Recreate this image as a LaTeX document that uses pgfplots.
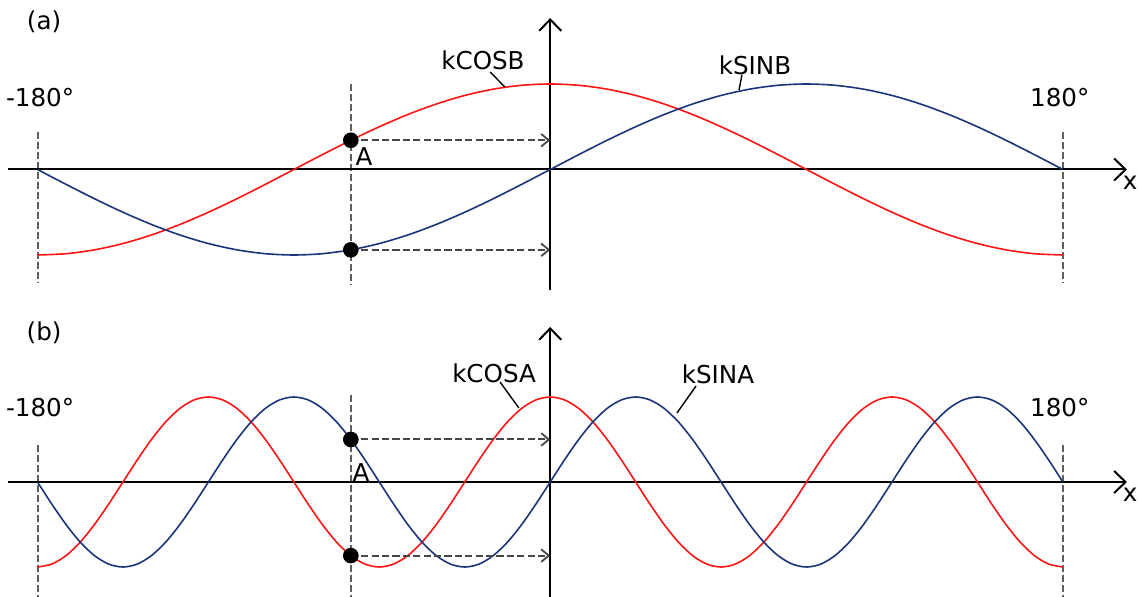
\documentclass[border=0pt]{standalone}
\usepackage{pgfplots}
\pgfplotsset{compat=1.18}
\usepackage{pgfplotstable}
\usepackage{fontspec}
\setmainfont{DejaVu Sans}
\usetikzlibrary{arrows.meta}

\definecolor{curvered}{RGB}{255,20,20}
\definecolor{curveblue}{RGB}{28,52,122}
\definecolor{dashgray}{RGB}{70,70,70}
\definecolor{guidegray}{RGB}{95,95,95}

% panel (a): one period of kSINB and kCOSB
\pgfplotstableread{
x    sinb     cosb
-180  0       -1
-170 -0.1736  -0.9848
-160 -0.3420  -0.9397
-150 -0.5000  -0.8660
-140 -0.6428  -0.7660
-130 -0.7660  -0.6428
-120 -0.8660  -0.5000
-110 -0.9397  -0.3420
-100 -0.9848  -0.1736
-90  -1        0
-80  -0.9848   0.1736
-70  -0.9397   0.3420
-60  -0.8660   0.5000
-50  -0.7660   0.6428
-40  -0.6428   0.7660
-30  -0.5000   0.8660
-20  -0.3420   0.9397
-10  -0.1736   0.9848
0     0        1
10    0.1736   0.9848
20    0.3420   0.9397
30    0.5000   0.8660
40    0.6428   0.7660
50    0.7660   0.6428
60    0.8660   0.5000
70    0.9397   0.3420
80    0.9848   0.1736
90    1        0
100   0.9848  -0.1736
110   0.9397  -0.3420
120   0.8660  -0.5000
130   0.7660  -0.6428
140   0.6428  -0.7660
150   0.5000  -0.8660
160   0.3420  -0.9397
170   0.1736  -0.9848
180   0       -1
}\tableB

% panel (b): three periods of kSINA and kCOSA
\pgfplotstableread{
x    sina     cosa
-180  0       -1
-175 -0.2588  -0.9659
-170 -0.5000  -0.8660
-165 -0.7071  -0.7071
-160 -0.8660  -0.5000
-155 -0.9659  -0.2588
-150 -1        0
-145 -0.9659   0.2588
-140 -0.8660   0.5000
-135 -0.7071   0.7071
-130 -0.5000   0.8660
-125 -0.2588   0.9659
-120  0        1
-115  0.2588   0.9659
-110  0.5000   0.8660
-105  0.7071   0.7071
-100  0.8660   0.5000
-95   0.9659   0.2588
-90   1        0
-85   0.9659  -0.2588
-80   0.8660  -0.5000
-75   0.7071  -0.7071
-70   0.5000  -0.8660
-65   0.2588  -0.9659
-60   0       -1
-55  -0.2588  -0.9659
-50  -0.5000  -0.8660
-45  -0.7071  -0.7071
-40  -0.8660  -0.5000
-35  -0.9659  -0.2588
-30  -1        0
-25  -0.9659   0.2588
-20  -0.8660   0.5000
-15  -0.7071   0.7071
-10  -0.5000   0.8660
-5   -0.2588   0.9659
0     0        1
5     0.2588   0.9659
10    0.5000   0.8660
15    0.7071   0.7071
20    0.8660   0.5000
25    0.9659   0.2588
30    1        0
35    0.9659  -0.2588
40    0.8660  -0.5000
45    0.7071  -0.7071
50    0.5000  -0.8660
55    0.2588  -0.9659
60    0       -1
65   -0.2588  -0.9659
70   -0.5000  -0.8660
75   -0.7071  -0.7071
80   -0.8660  -0.5000
85   -0.9659  -0.2588
90   -1        0
95   -0.9659   0.2588
100  -0.8660   0.5000
105  -0.7071   0.7071
110  -0.5000   0.8660
115  -0.2588   0.9659
120   0        1
125   0.2588   0.9659
130   0.5000   0.8660
135   0.7071   0.7071
140   0.8660   0.5000
145   0.9659   0.2588
150   1        0
155   0.9659  -0.2588
160   0.8660  -0.5000
165   0.7071  -0.7071
170   0.5000  -0.8660
175   0.2588  -0.9659
180   0       -1
}\tableA

\pgfplotsset{
  panel/.style={
    hide axis, clip=false, scale only axis,
    width=569bp, height=149.25bp,
    xmin=-193.17, xmax=206.37,
  },
  axisline/.style={black, line width=1bp, -{Straight Barb[length=5.7bp, width=11bp, line width=1bp]}},
  guide/.style={guidegray, line width=1bp, dash pattern=on 3.4bp off 1.6bp},
  probe/.style={dashgray, line width=1bp, dash pattern=on 3.6bp off 1.6bp,
    -{Straight Barb[length=3.8bp, width=6.3bp, line width=0.9bp]}},
  sinecurve/.style={curveblue, line width=0.8bp, smooth},
  cosinecurve/.style={curvered, line width=0.8bp, smooth},
  dot/.style={only marks, mark=*, mark size=3.7bp, black},
  lead/.style={black, line width=0.7bp},
}

\begin{document}
\begin{tikzpicture}[font=\fontsize{12.3bp}{14bp}\selectfont]

% ---------- (a) ----------
\begin{axis}[panel, at={(0,149.25bp)}, anchor=south west, ymin=-1.5088, ymax=1.9825]
  % guides at -180, 180 and at point A
  \addplot[guide] coordinates {(-180,0.4386) (-180,-1.327)};
  \addplot[guide] coordinates {(180,0.4386) (180,-1.327)};
  \addplot[guide] coordinates {(-70,1.0) (-70,-1.351)};
  % axes
  \addplot[axisline] coordinates {(-190.4,0) (202.5,0)};
  \addplot[axisline] coordinates {(0,-1.409) (0,1.772)};
  % curves
  \addplot[cosinecurve] table[x=x, y=cosb] {\tableB};
  \addplot[sinecurve] table[x=x, y=sinb] {\tableB};
  % projections of A onto the vertical axis
  \addplot[probe] coordinates {(-70,0.342) (0,0.342)};
  \addplot[probe] coordinates {(-70,-0.9397) (0,-0.9397)};
  \addplot[dot] coordinates {(-70,0.342) (-70,-0.9397)};
  % labels
  \node[inner sep=0] at (axis cs:-177.7,1.725) {(a)};
  \node[inner sep=0] at (axis cs:-179.1,0.836) {-180°};
  \node[inner sep=0] at (axis cs:178.9,0.836) {180°};
  \node[inner sep=0] at (axis cs:-23.6,1.281) {kCOSB};
  \addplot[lead] coordinates {(-21.1,1.140) (-15.9,0.965)};
  \node[inner sep=0] at (axis cs:71.9,1.222) {kSINB};
  \addplot[lead] coordinates {(67.3,1.105) (66.3,0.930)};
  \node[inner sep=0] at (axis cs:-65.4,0.146) {A};
  \node[inner sep=0, anchor=east] at (axis cs:206.3,-0.158) {x};
\end{axis}

% ---------- (b) ----------
\begin{axis}[panel, at={(0,0)}, anchor=south west, ymin=-1.3529, ymax=2.1588]
  \addplot[guide] coordinates {(-180,0.435) (-180,-1.3529)};
  \addplot[guide] coordinates {(180,0.435) (180,-1.3529)};
  \addplot[guide] coordinates {(-70,1.0235) (-70,-1.3529)};
  \addplot[axisline] coordinates {(-190.4,0) (202.5,0)};
  \addplot[axisline] coordinates {(0,-1.3529) (0,1.824)};
  \addplot[cosinecurve] table[x=x, y=cosa] {\tableA};
  \addplot[sinecurve] table[x=x, y=sina] {\tableA};
  \addplot[probe] coordinates {(-70,0.5) (0,0.5)};
  \addplot[probe] coordinates {(-70,-0.866) (0,-0.866)};
  \addplot[dot] coordinates {(-70,0.5) (-70,-0.866)};
  \node[inner sep=0] at (axis cs:-177.7,1.753) {(b)};
  \node[inner sep=0] at (axis cs:-179.1,0.871) {-180°};
  \node[inner sep=0] at (axis cs:178.9,0.871) {180°};
  \node[inner sep=0] at (axis cs:-19.7,1.282) {kCOSA};
  \addplot[lead] coordinates {(-17.6,1.176) (-11.0,0.871)};
  \node[inner sep=0] at (axis cs:58.9,1.271) {kSINA};
  \addplot[lead] coordinates {(51.2,1.129) (44.5,0.812)};
  \node[inner sep=0] at (axis cs:-66.4,0.106) {A};
  \node[inner sep=0, anchor=east] at (axis cs:206.3,-0.153) {x};
\end{axis}

\pgfresetboundingbox
\path[use as bounding box] (0,0) rectangle (569bp,298.5bp);
\end{tikzpicture}
\end{document}
